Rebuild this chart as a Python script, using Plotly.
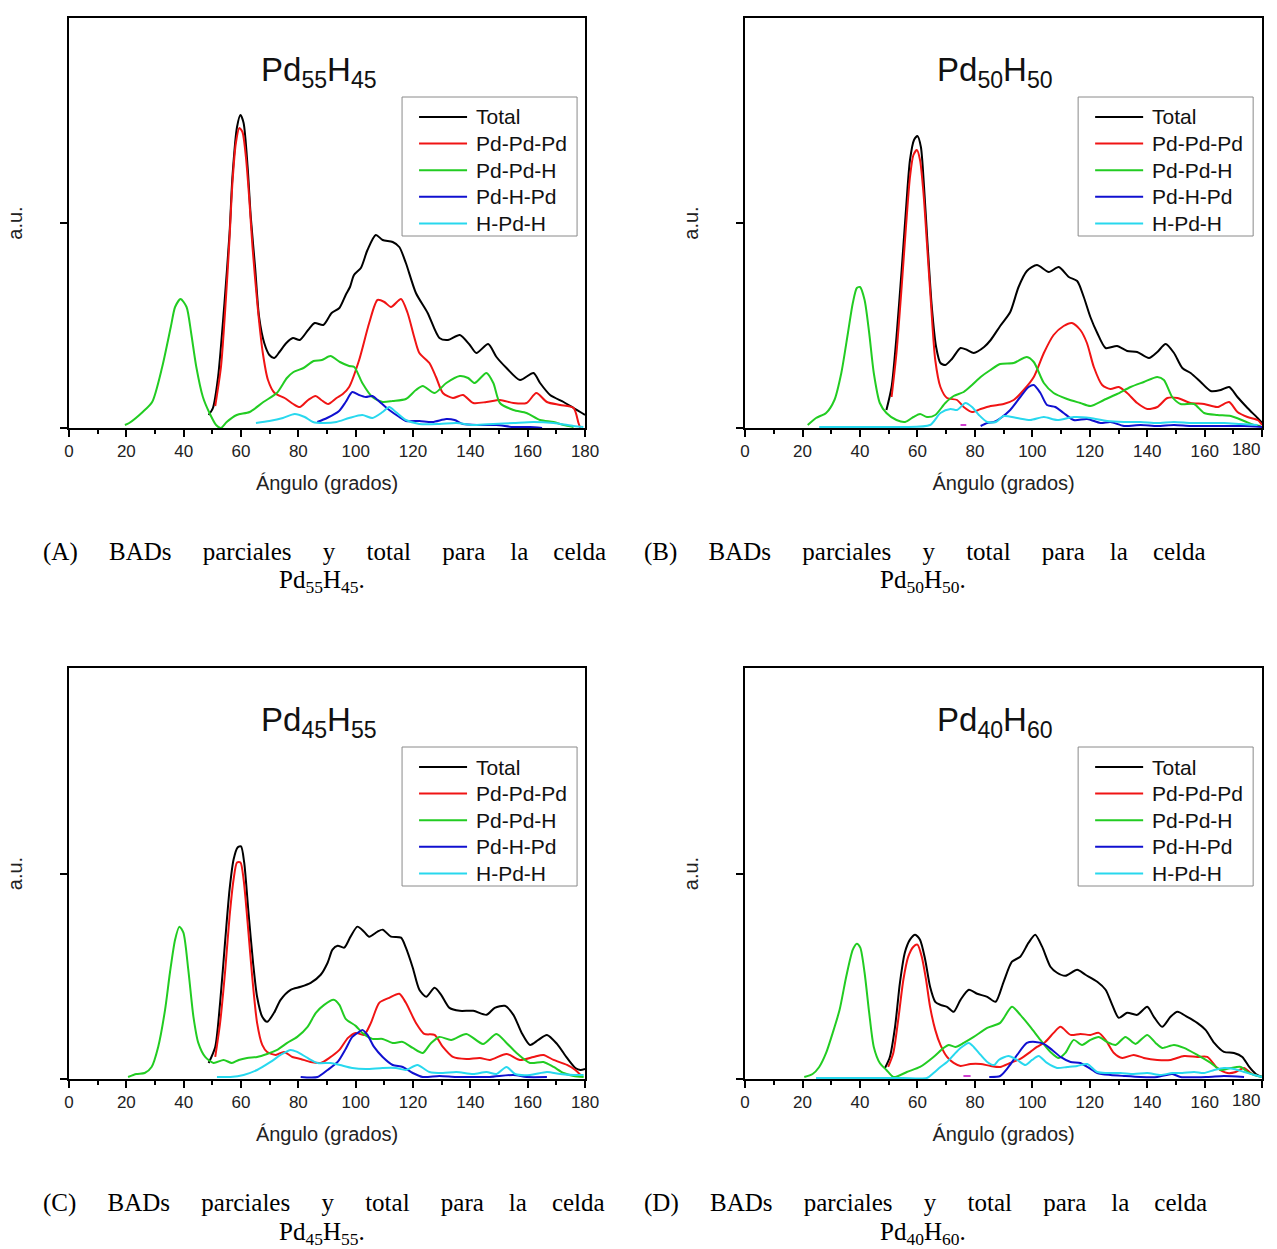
import plotly.graph_objects as go

W, H = 1277, 1249

# ---- series ----
names = ["Total", "Pd-Pd-Pd", "Pd-Pd-H", "Pd-H-Pd", "H-Pd-H"]
colors = ["#000000", "#f01414", "#22cc22", "#1010d0", "#28d8ee"]

# Pd55H45
a_total_x = [48.7, 50.2, 52, 54.3, 56, 57, 58.6, 59.8, 60.9, 62.3, 63.4, 64.9, 66.3, 68.1, 69.9, 71.6, 73.4, 75.8, 78.1, 80.5, 83.4, 85.7, 88.7, 91.6, 94.3, 96.5, 98, 99.4, 101.8, 104.1, 107, 109.4, 112.9, 115.2, 117.5, 121, 125.1, 129.2, 132.2, 136.3, 139.8, 142.1, 146.2, 149.1, 152.6, 157.3, 162, 164.3, 167.8, 172.5, 176, 178.9, 180]
a_total_y = [13, 20, 51, 128, 195, 251, 301, 313, 305, 261, 211, 161, 111, 85, 73, 70, 76, 85, 90, 88, 98, 105, 103, 115, 120, 133, 141, 153, 160, 178, 193, 188, 186, 181, 165, 135, 115, 90, 88, 93, 83, 75, 84, 71, 60, 48, 55, 45, 33, 26, 20, 15, 13]
a_pdpdpd_x = [51, 53, 54.7, 55.9, 57, 58.2, 59.4, 60.5, 61.7, 62.9, 64, 65.8, 67.6, 69.4, 71.7, 75.2, 78.2, 80.5, 83.4, 86, 88, 90.4, 93.3, 95.5, 97.7, 101.2, 104.7, 107.6, 110, 112.3, 115.8, 118.1, 120.4, 122.2, 125.7, 128, 130.4, 133.9, 137.4, 141, 145.6, 150.3, 155, 159.6, 163, 166.7, 171.3, 176, 177.7, 178.3]
a_pdpdpd_y = [22, 61, 128, 185, 245, 285, 300, 296, 271, 228, 181, 121, 75, 48, 35, 30, 24, 21, 28, 32, 28, 24, 30, 34, 41, 68, 105, 128, 126, 121, 129, 115, 91, 75, 65, 51, 35, 30, 33, 25, 26, 28, 25, 25, 35, 26, 23, 20, 5, 0]
a_pdpdh_x = [19.5, 21, 25.7, 29, 32.5, 35.5, 37, 38.9, 41, 42.6, 44.4, 46.7, 49, 51.3, 53, 55, 58.5, 63, 67.8, 72.5, 76, 78.3, 81.8, 85.3, 88.2, 91.2, 94.5, 97.7, 99.5, 102.3, 105.8, 109.4, 112.9, 117.5, 121, 123.4, 127.5, 131.6, 136.3, 139.2, 141.5, 145.6, 148, 150.3, 155, 159.6, 164.3, 169, 172.5, 176]
a_pdpdh_y = [3, 5, 16, 26, 61, 101, 121, 129, 121, 95, 61, 31, 15, 3, 0, 6, 13, 16, 26, 35, 50, 56, 60, 67, 68, 72, 66, 62, 61, 45, 31, 26, 27, 29, 38, 42, 35, 45, 52, 50, 45, 55, 45, 25, 18, 15, 8, 6, 3, 1]
a_pdhpd_x = [86.6, 90, 94.2, 96.5, 98.8, 101.2, 103.5, 105.8, 108.8, 111.7, 115.2, 117.5, 122.2, 126.8, 131.6, 134.5, 137.4, 143.3, 149, 155, 160.8, 165]
a_pdhpd_y = [6, 10, 17, 26, 36, 33, 31, 32, 25, 18, 11, 7, 7, 6, 9, 8, 4, 3, 3, 1, 1, 0]
a_hpdh_x = [65.2, 69.9, 74.6, 78.7, 82.2, 85.1, 88.7, 93.3, 97.7, 102.3, 105.8, 109.4, 111.7, 114, 117.5, 122.2, 129.2, 135, 141, 148, 155, 162, 169, 176, 179.4]
a_hpdh_y = [5, 7, 10, 14, 11, 6, 5, 6, 10, 13, 10, 16, 21, 16, 8, 4, 4, 5, 3, 4, 5, 6, 5, 2, 1]

# Pd50H50
b_total_x = [49.2, 51, 52.7, 54.5, 56, 57.4, 58.8, 60, 61.2, 62.3, 63.5, 65, 66.5, 68, 69.7, 72, 75, 77.3, 79.6, 83.2, 85.5, 88.8, 92.3, 95.2, 98.1, 101.6, 105.7, 109.2, 112.7, 115.6, 117.9, 120.2, 122.6, 125.5, 129.5, 133, 136.5, 140.6, 143.5, 146.4, 149.3, 152.2, 155.1, 158.6, 162.1, 165.6, 168.5, 171.4, 174.9, 178.4, 180]
b_total_y = [18, 41, 91, 158, 218, 268, 288, 292, 281, 241, 185, 121, 81, 65, 63, 69, 80, 78, 75, 81, 88, 102, 116, 141, 157, 163, 156, 161, 151, 147, 131, 111, 95, 80, 82, 77, 76, 70, 76, 84, 75, 60, 55, 46, 37, 38, 41, 31, 20, 10, 5]
b_pdpdpd_x = [51, 52.7, 54.5, 56, 57.4, 58.6, 59.8, 60.9, 62.1, 63.3, 64.7, 66.2, 68, 70.3, 73.8, 76.1, 79, 82, 85.5, 90, 93.5, 97, 100.5, 104, 107.4, 110.9, 113.8, 116.7, 119, 121.4, 124.3, 127.2, 130.1, 133, 136.5, 140, 143.5, 147, 150.5, 155.1, 159.8, 164.4, 168.5, 171.4, 174.9, 178.4, 180]
b_pdpdpd_y = [31, 75, 141, 201, 251, 273, 278, 268, 235, 185, 125, 68, 41, 30, 28, 21, 16, 19, 22, 24, 28, 38, 51, 75, 93, 102, 105, 98, 85, 61, 43, 39, 41, 35, 25, 19, 21, 30, 30, 25, 24, 21, 26, 16, 11, 8, 3]
b_pdpdh_x = [21.8, 24.7, 28.2, 31.1, 33.5, 35.8, 37.5, 38.9, 40, 41.6, 43.2, 44.8, 46.9, 49.2, 52.7, 55.7, 58.6, 60.9, 63.3, 66.2, 69.7, 72.6, 76.1, 79, 82, 85.4, 88.8, 93.5, 98.1, 100.5, 104, 107.4, 112.1, 116.7, 120.2, 124.9, 129.5, 134.2, 138.8, 143.5, 145.8, 148.7, 151.6, 156.3, 159.8, 164.4, 169.1, 173.7, 177.2, 179.5]
b_pdpdh_y = [3, 10, 15, 28, 55, 95, 125, 140, 141, 128, 95, 55, 25, 15, 8, 6, 11, 14, 11, 13, 25, 32, 36, 43, 51, 58, 64, 65, 71, 66, 45, 35, 29, 25, 22, 28, 34, 41, 46, 51, 48, 31, 24, 24, 15, 13, 12, 7, 3, 2]
b_pdhpd_x = [82, 84.3, 86.6, 89, 92.3, 95.8, 98.7, 100.5, 102.8, 105.1, 108, 110.9, 114.4, 119.1, 123.7, 127.2, 131.9, 137.7, 143.5, 149.3, 155.1, 164.4, 173.7, 180]
b_pdhpd_y = [2, 5, 6, 10, 18, 31, 41, 43, 35, 23, 21, 15, 8, 9, 5, 6, 2, 3, 2, 3, 2, 2, 2, 1]
b_hpdh_x = [25.8, 35, 45, 55, 64.4, 68, 71.5, 73.8, 76.7, 79, 81.4, 84.3, 87.3, 90, 94.7, 99.3, 104, 108.6, 114.4, 120.2, 126, 131.9, 137.7, 143.5, 149.3, 155.1, 160.9, 166.7, 172.5, 178.4]
b_hpdh_y = [1, 1, 1, 1, 3, 15, 19, 18, 25, 21, 13, 6, 6, 12, 10, 8, 11, 8, 11, 10, 7, 6, 6, 5, 6, 5, 5, 5, 4, 3]
b_extra_x = [75, 77]
b_extra_y = [3, 3]

# Pd45H55
c_total_x = [48.7, 51, 52.7, 54.5, 56, 57.4, 58.8, 60, 61.1, 62.6, 64.2, 65.6, 67.4, 69.1, 71.5, 73.8, 77.3, 80.8, 84.3, 87.8, 90.2, 91.9, 93.7, 96, 98.2, 100.6, 102.9, 104.7, 107.6, 109.4, 112.3, 115.8, 117.5, 119.9, 122.2, 124.6, 127.5, 129.8, 132.7, 136.3, 141, 145.6, 148.5, 152, 155, 157.9, 160.8, 163.7, 166.7, 170.2, 173.7, 176.6, 178.4, 180]
c_total_y = [16, 32, 76, 139, 189, 219, 231, 232, 216, 166, 116, 82, 62, 57, 66, 79, 89, 92, 96, 104, 116, 129, 133, 131, 142, 152, 147, 142, 147, 149, 142, 141, 131, 111, 89, 82, 91, 84, 71, 68, 68, 64, 71, 73, 64, 46, 34, 39, 44, 35, 21, 11, 9, 10]
c_pdpdpd_x = [51, 52.7, 54.5, 56, 57.4, 58.6, 59.8, 60.9, 62.3, 63.9, 65.6, 67.4, 69.1, 72.1, 75, 77.9, 80.8, 84.3, 87.8, 90.8, 94.3, 97.3, 100, 102.9, 105.3, 108.2, 111.7, 115.2, 117.5, 121, 123.9, 127.5, 130.4, 133.9, 138.6, 143.3, 146.8, 152.6, 157.3, 162, 165.5, 169, 173.7, 176.6, 178.4]
c_pdpdpd_y = [22, 56, 109, 162, 199, 216, 216, 199, 156, 102, 56, 34, 27, 24, 27, 22, 20, 17, 16, 21, 29, 41, 46, 44, 56, 76, 81, 85, 76, 56, 45, 44, 32, 22, 20, 21, 19, 25, 19, 22, 24, 19, 14, 9, 4]
c_pdpdh_x = [20.6, 23.5, 26.4, 28.8, 31.1, 33.5, 35.2, 37, 38.5, 39.9, 41.6, 43.4, 45.1, 47.5, 50.4, 53.9, 56.8, 59.2, 62.1, 65.6, 69.1, 72.6, 76.1, 79.6, 83.2, 86.1, 89, 92.3, 94.3, 96.5, 100, 102.3, 105.8, 109.4, 112.9, 116.4, 119.9, 123.4, 126.3, 129.2, 133.3, 138.6, 144.4, 149.1, 152.6, 156.1, 160.8, 165.5, 169, 172.5, 176, 179.5]
c_pdpdh_y = [2, 5, 6, 12, 32, 69, 106, 139, 152, 146, 109, 62, 36, 22, 16, 19, 16, 19, 21, 22, 25, 29, 36, 42, 52, 66, 74, 79, 74, 60, 53, 46, 40, 40, 36, 37, 31, 26, 36, 42, 39, 45, 35, 45, 36, 26, 16, 17, 12, 6, 3, 2]
c_pdhpd_x = [80.8, 86.7, 90.2, 93.7, 96.5, 98.8, 101.2, 102.3, 104.1, 106.4, 109.4, 112.9, 116.4, 119.9, 123.4, 129.2, 135, 141, 146.8, 155, 159.6, 166.7]
c_pdhpd_y = [2, 2, 9, 17, 30, 42, 47, 49, 44, 32, 22, 14, 12, 6, 2, 3, 2, 2, 2, 4, 2, 2]
c_hpdh_x = [51.6, 56.3, 60.9, 65.6, 70.3, 73.8, 77.3, 79.6, 83.2, 86.7, 91.3, 94.5, 98.8, 103.5, 109.4, 114, 117.5, 121.5, 125.7, 130.4, 135.1, 141, 145.6, 149.1, 152.6, 155.6, 160.8, 166.7, 171.3, 176, 179.5]
c_hpdh_y = [2, 2, 4, 9, 17, 24, 29, 27, 21, 16, 16, 14, 11, 10, 11, 11, 9, 14, 7, 6, 7, 5, 7, 5, 12, 5, 4, 7, 5, 4, 4]

# Pd40H60
d_total_x = [48.7, 50.4, 52.2, 53.9, 55.6, 57.4, 59.2, 60.9, 62.7, 64.4, 66.2, 68, 70.3, 72.6, 75, 77.9, 80.8, 84.3, 87.2, 90, 92.9, 95.8, 98.7, 101, 103.4, 106.3, 108.6, 111.5, 115.6, 118.5, 122.6, 125.5, 127.8, 130.1, 133, 136.5, 140, 142.3, 145.2, 148.1, 150.5, 153.9, 157.4, 160.3, 163.3, 166.7, 170.2, 173.1, 175.5, 177.8, 180]
d_total_y = [11, 22, 52, 96, 126, 139, 144, 139, 119, 92, 77, 74, 72, 67, 79, 89, 85, 82, 77, 97, 117, 122, 136, 144, 132, 112, 106, 103, 109, 104, 97, 89, 74, 61, 66, 64, 72, 62, 52, 62, 67, 62, 56, 49, 36, 27, 26, 22, 12, 5, 2]
d_pdpdpd_x = [49.8, 51.6, 53.3, 55.1, 56.8, 58.6, 60, 61.5, 63, 64.4, 66.2, 68, 70.3, 72.6, 75, 78.5, 82, 85.5, 88.8, 92.3, 95.8, 99.3, 101.6, 104.5, 107.4, 109.8, 113.3, 116.7, 120.2, 123.1, 125.5, 128.4, 131.3, 135.3, 138.8, 143.5, 148.1, 152.8, 157.4, 160.9, 164.4, 167.9, 170.8, 173.7, 176, 178.4]
d_pdpdpd_y = [12, 26, 59, 99, 122, 132, 134, 122, 99, 72, 49, 34, 22, 16, 13, 15, 15, 13, 12, 16, 20, 27, 32, 37, 46, 52, 44, 45, 44, 46, 39, 26, 21, 24, 21, 19, 19, 23, 22, 22, 11, 6, 7, 11, 6, 3]
d_pdpdh_x = [20.6, 23.5, 25.8, 28.2, 30.5, 32.9, 35.2, 37.5, 38.9, 40.1, 41.6, 43.2, 44.8, 46.9, 49.2, 51.6, 53.3, 56.3, 60.9, 65.6, 69.1, 70.9, 73.2, 76.1, 79.6, 84.3, 88.8, 92.9, 95.8, 99.3, 102.8, 106.3, 109.2, 111.5, 114.4, 117.3, 120.2, 123.1, 126, 129, 132.4, 135.9, 140, 142.9, 145.2, 149.3, 152.8, 157.4, 162.1, 165.6, 169.1, 172.6, 174.9, 177.2, 180]
d_pdpdh_y = [2, 5, 12, 26, 46, 69, 102, 129, 135, 131, 106, 66, 32, 16, 9, 2, 3, 7, 12, 22, 31, 34, 32, 36, 42, 51, 56, 72, 64, 52, 39, 27, 21, 26, 39, 34, 39, 42, 37, 34, 42, 35, 44, 36, 31, 34, 31, 24, 16, 9, 11, 12, 7, 4, 2]
d_pdhpd_x = [85, 88.8, 91.7, 94.7, 98.1, 101, 104, 106.9, 109.8, 113.3, 116.7, 119.7, 122.6, 127.2, 131.9, 137.7, 143.5, 148.7, 151.6, 160.9, 166.7, 173.7]
d_pdhpd_y = [2, 3, 12, 24, 36, 37, 35, 29, 22, 17, 16, 11, 6, 4, 3, 2, 2, 5, 2, 2, 3, 2]
d_hpdh_x = [24.7, 35, 45, 55, 63.3, 65.6, 68, 70.3, 72.6, 75, 77.9, 79.6, 82, 84.3, 86.7, 88.3, 91.7, 94.7, 97.6, 99.9, 102.2, 105.1, 108.6, 112.1, 115.6, 119.1, 122.6, 126, 130.7, 135.3, 140, 144.7, 148.7, 152.2, 156.3, 159.8, 163.3, 166.7, 170.2, 173.7, 177.2, 180]
d_hpdh_y = [1, 1, 1, 1, 1, 6, 12, 17, 24, 31, 36, 32, 24, 17, 14, 19, 23, 19, 14, 19, 23, 16, 11, 12, 13, 15, 7, 6, 6, 5, 6, 4, 6, 6, 7, 6, 9, 11, 10, 7, 4, 2]
d_extra_x = [76, 78.5]
d_extra_y = [3, 3]

# ---- labels ----
cells = [("55", "45"), ("50", "50"), ("45", "55"), ("40", "60")]
panel_tags = ["(A)", "(B)", "(C)", "(D)"]
caption_words = ["BADs", "parciales", "y", "total", "para", "la", "celda"]
caption_gaps = [5, 5, 5, 5, 5, 4, 4]
x_ticks = [0, 20, 40, 60, 80, 100, 120, 140, 160, 180]
x_tick_text = [str(t) for t in x_ticks]

panels = [
    [(a_total_x, a_total_y), (a_pdpdpd_x, a_pdpdpd_y), (a_pdpdh_x, a_pdpdh_y), (a_pdhpd_x, a_pdhpd_y), (a_hpdh_x, a_hpdh_y)],
    [(b_total_x, b_total_y), (b_pdpdpd_x, b_pdpdpd_y), (b_pdpdh_x, b_pdpdh_y), (b_pdhpd_x, b_pdhpd_y), (b_hpdh_x, b_hpdh_y)],
    [(c_total_x, c_total_y), (c_pdpdpd_x, c_pdpdpd_y), (c_pdpdh_x, c_pdpdh_y), (c_pdhpd_x, c_pdhpd_y), (c_hpdh_x, c_hpdh_y)],
    [(d_total_x, d_total_y), (d_pdpdpd_x, d_pdpdpd_y), (d_pdpdh_x, d_pdpdh_y), (d_pdhpd_x, d_pdhpd_y), (d_hpdh_x, d_hpdh_y)],
]
extras = {1: (b_extra_x, b_extra_y), 3: (d_extra_x, d_extra_y)}

# plot boxes in page pixels: left, right, top, bottom
boxes = [(69, 585, 18, 428), (745, 1262, 18, 428), (69, 585, 668, 1079), (745, 1262, 668, 1079)]

# horizontal page-pixel -> paper conversion (page shows the figure slightly narrowed and offset)
SX, OX = 0.985, 5.0
NBSP = "\u00a0"


def fx(px):
    return (px - OX) / SX / W


def fy(py):
    return 1 - py / H


SANS = "Liberation Sans, Arial, sans-serif"
SERIF = "Liberation Serif, Times New Roman, serif"

fig = go.Figure()
layout = dict(
    width=W, height=H, autosize=False, margin=dict(l=0, r=0, t=0, b=0, pad=0),
    paper_bgcolor="white", plot_bgcolor="white",
    font=dict(family=SANS, color="#111"),
    annotations=[], shapes=[], showlegend=False,
)

for i, series in enumerate(panels):
    n = "" if i == 0 else str(i + 1)
    for (xs, ys), name, col in zip(series, names, colors):
        fig.add_trace(go.Scatter(
            x=xs, y=ys, name=name, mode="lines",
            line=dict(color=col, width=2, shape="spline", smoothing=0.7),
            xaxis="x" + n, yaxis="y" + n,
        ))
    if i in extras:
        ex, ey = extras[i]
        fig.add_trace(go.Scatter(
            x=ex, y=ey, mode="lines", line=dict(color="#d040d0", width=2),
            xaxis="x" + n, yaxis="y" + n, hoverinfo="skip",
        ))

    left, right, top, bottom = boxes[i]
    tick_text = list(x_tick_text)
    if i % 2 == 1:
        # the last label of the right-hand column sits at the page edge; it is
        # drawn separately below so that it stays inside the page
        tick_text[-1] = ""
        layout["annotations"].append(dict(
            text=x_tick_text[-1], x=0.9995, y=fy(bottom + 21), xref="paper", yref="paper",
            showarrow=False, xanchor="right", yanchor="middle",
            font=dict(size=17, family=SANS, color="#222"),
        ))
    layout["xaxis" + n] = dict(
        domain=[fx(left), min(fx(right), 1.0)], range=[0, 180], anchor="y" + n,
        tickvals=x_ticks, ticktext=tick_text,
        ticks="outside", ticklen=7, tickwidth=2, tickcolor="black",
        minor=dict(dtick=10, tick0=0, ticks="outside", ticklen=4, tickwidth=2, tickcolor="black"),
        showline=True, linewidth=2, linecolor="black", mirror=True,
        showgrid=False, zeroline=False,
        tickfont=dict(size=17, family=SANS, color="#222"),
        title=dict(text="Ángulo (grados)", font=dict(size=20, family=SANS, color="#222"), standoff=16),
    )
    layout["yaxis" + n] = dict(
        domain=[fy(bottom), fy(top)], range=[0, 410], anchor="x" + n,
        tickvals=[0, 205], showticklabels=False, ticks="outside", ticklen=7, tickwidth=2,
        tickcolor="black", showline=True, linewidth=2, linecolor="black", mirror=True,
        showgrid=False, zeroline=False,
        title=dict(text="a.u.", font=dict(size=20, family=SANS, color="#222"), standoff=32),
    )

    # legend box with line samples
    lx0, lx1, ly0, ly1 = left + 333, left + 508, top + 79, top + 218
    layout["shapes"].append(dict(
        type="rect", xref="paper", yref="paper",
        x0=fx(lx0), x1=fx(lx1), y0=fy(ly1), y1=fy(ly0),
        line=dict(color="#8a8a8a", width=1), fillcolor="white", layer="above",
    ))
    for k, (name, col) in enumerate(zip(names, colors)):
        row = top + 99 + k * 26.6
        layout["shapes"].append(dict(
            type="line", xref="paper", yref="paper",
            x0=fx(lx0 + 17), x1=fx(lx0 + 65), y0=fy(row), y1=fy(row),
            line=dict(color=col, width=2), layer="above",
        ))
        layout["annotations"].append(dict(
            text=name, x=fx(lx0 + 72), y=fy(row), xref="paper", yref="paper",
            showarrow=False, xanchor="left", yanchor="middle",
            font=dict(size=21, family=SANS, color="#111"),
        ))

    pd_n, h_n = cells[i]
    formula = f"Pd<sub>{pd_n}</sub>H<sub>{h_n}</sub>"
    layout["annotations"].append(dict(
        text=formula, x=fx(left + 250), y=fy(top + 54), xref="paper", yref="paper",
        showarrow=False, xanchor="center", yanchor="middle",
        font=dict(size=33, family=SANS, color="#111"),
    ))

    # caption under each panel, spread across the column width
    cap_dx = 0 if i % 2 == 0 else 601
    cap_dy = 0 if i < 2 else 651
    line1 = panel_tags[i]
    for w, g in zip(caption_words, caption_gaps):
        line1 += NBSP * g + w
    layout["annotations"].append(dict(
        text=line1, x=fx(41 + cap_dx), y=fy(552 + cap_dy), xref="paper", yref="paper",
        showarrow=False, xanchor="left", yanchor="middle",
        font=dict(size=25, family=SERIF, color="black"),
    ))
    layout["annotations"].append(dict(
        text=formula + ".", x=fx(322 + cap_dx), y=fy(582 + cap_dy), xref="paper", yref="paper",
        showarrow=False, xanchor="center", yanchor="middle",
        font=dict(size=25, family=SERIF, color="black"),
    ))

fig.update_layout(**layout)
fig.write_html("out.html")
